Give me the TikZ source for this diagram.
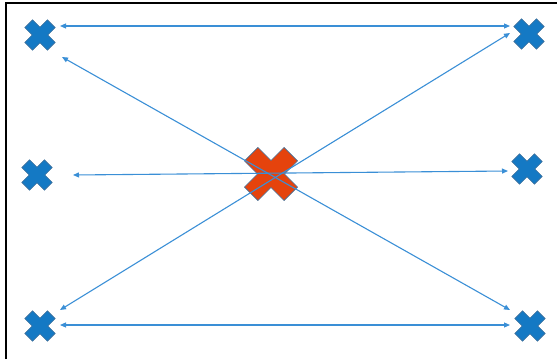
\documentclass[tikz,border=0pt]{standalone}
\usetikzlibrary{arrows.meta}
\definecolor{xblue}{HTML}{1479C4}
\definecolor{lnblue}{HTML}{3A8FD6}
\definecolor{xred}{HTML}{E5430D}
\definecolor{xedge}{HTML}{41719C}

\tikzset{
  spot/.style={circle, minimum size=40pt, inner sep=0pt, outer sep=0pt},
  link/.style={lnblue, line width=1.1pt, {Triangle[length=6pt, width=5pt]}-{Triangle[length=6pt, width=5pt]}},
  pics/xmark/.style n args={3}{code={
    \filldraw[fill=#3, draw=xedge, line width=0.6pt, rotate=45]
      (#1,#1) -- (#2,#1) -- (#2,-#1) -- (#1,-#1) -- (#1,-#2) -- (-#1,-#2) -- (-#1,-#1)
      -- (-#2,-#1) -- (-#2,#1) -- (-#1,#1) -- (-#1,#2) -- (#1,#2) -- cycle;}},
}

\begin{document}
\begin{tikzpicture}[x=1pt, y=-1pt]

\useasboundingbox (0,0) rectangle (557,359);

% Frame
\draw[black, line width=2pt] (6,359) -- (6,3) -- (557,3);

% Positions
\node[spot] (tl) at (40,35) {};
\node[spot] (tr) at (529,34) {};
\node[spot] (ml) at (37,175) {};
\node[spot] (mr) at (527,169) {};
\node[spot] (bl) at (40,326) {};
\node[spot] (br) at (530,326) {};
\node[spot] (c) at (271,174) {};

% Blue marks
\pic at (tl) {xmark={5.5}{16}{xblue}};
\pic at (tr) {xmark={5.5}{16}{xblue}};
\pic at (ml) {xmark={5.5}{16}{xblue}};
\pic at (mr) {xmark={5.5}{16}{xblue}};
\pic at (bl) {xmark={5.5}{16}{xblue}};
\pic at (br) {xmark={5.5}{16}{xblue}};

% Centre mark
\pic at (c) {xmark={9.5}{28}{xred}};

% Arrows
\draw[link] ([shift={(20pt,9pt)}]tl.center) -- ([shift={(-19pt,8pt)}]tr.center);
\draw[link] ([shift={(20pt,1pt)}]bl.center) -- ([shift={(-20pt,1pt)}]br.center);
\draw[link] ([shift={(36pt,0pt)}]ml.center) -- ([shift={(-19pt,-2pt)}]mr.center);
\draw[link] ([shift={(22pt,-22pt)}]tl.center) -- ([shift={(-20pt,16pt)}]br.center);
\draw[link] ([shift={(20pt,16pt)}]bl.center) -- ([shift={(-19pt,1pt)}]tr.center);

\end{tikzpicture}
\end{document}
